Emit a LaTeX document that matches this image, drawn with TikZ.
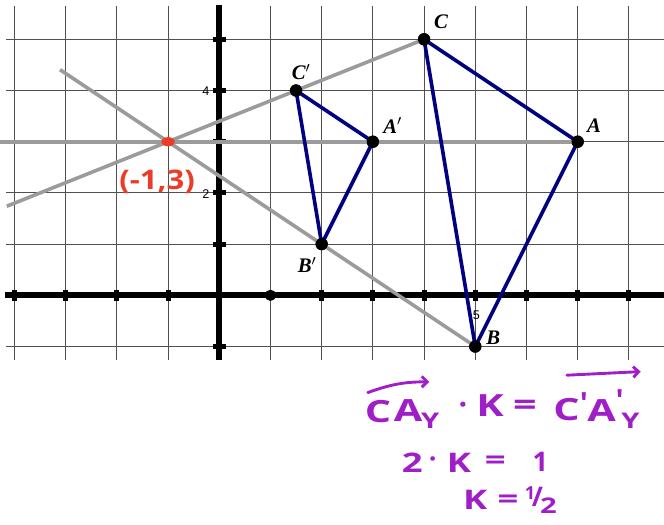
\documentclass[tikz,border=0pt]{standalone}
\usepackage{fontspec}
\usepackage{graphicx}
\usetikzlibrary{arrows.meta}
\setmainfont{Liberation Serif}
\setsansfont{Liberation Sans}
\newfontfamily\handfont{Open Sans}
\newcommand{\hwide}[1]{\scalebox{1.35}[1]{#1}}
\definecolor{navyline}{RGB}{0,0,128}
\definecolor{grayline}{RGB}{155,155,155}
\definecolor{gridline}{RGB}{80,80,80}
\definecolor{handpurple}{RGB}{160,30,200}
\definecolor{handred}{RGB}{235,60,40}
\begin{document}
\begin{tikzpicture}[
  gridstyle/.style={draw=gridline, line width=0.6pt},
  axisstyle/.style={draw=black, line width=3.3pt},
  rayline/.style={draw=grayline, line width=2pt},
  triline/.style={draw=navyline, line width=2pt, line join=round},
  ptdot/.style={circle, fill=black, inner sep=0pt, minimum size=0.24cm},
  ptlabel/.style={font=\fontsize{11.5}{13}\selectfont\bfseries\itshape, inner sep=0pt},
  axlabel/.style={font=\sffamily\fontsize{7}{8}\selectfont, inner sep=0pt},
  xtick/.style={fill=black, minimum width=0.1cm, minimum height=0.21cm, inner sep=0pt},
  ytick/.style={fill=black, minimum width=0.26cm, minimum height=0.1cm, inner sep=0pt},
  hand/.style={text=handpurple, font=\handfont\bfseries\fontsize{17}{20}\selectfont, inner sep=0pt},
  handmid/.style={text=handpurple, font=\handfont\bfseries\fontsize{15}{18}\selectfont, inner sep=0pt},
  handsub/.style={text=handpurple, font=\handfont\bfseries\fontsize{12}{14}\selectfont, inner sep=0pt},
  handarrow/.style={draw=handpurple, line width=1.6pt, line cap=round, -{Straight Barb[length=3pt,width=6pt]}},
]
\useasboundingbox (-4.283,-4.467) rectangle (8.686,5.768);
% grid
\foreach \i in {-4,...,8} \draw[gridstyle] (\i,-1.264) -- (\i,5.65);
\foreach \j in {-1,...,5} \draw[gridstyle] (-4.166,\j) -- (8.686,\j);
% axes
\draw[axisstyle] (-4.18,0) -- (8.686,0);
\draw[axisstyle] (0,-1.27) -- (0,5.67);
\foreach \i in {-4,-3,-2,-1,2,3,4,5,6,7,8} \node[xtick] (xt\i) at (\i,0) {};
\node[circle, fill=black, inner sep=0pt, minimum size=0.22cm] (xt1) at (1,0) {};
\foreach \j in {-1,1,2,3,4,5} \node[ytick] (yt\j) at (0,\j) {};
\node[axlabel] (l4) at (-0.26,3.99) {4};
\node[axlabel] (l2) at (-0.26,1.98) {2};
\node[axlabel] (l5) at (5.02,-0.38) {5};
% points
\coordinate (O) at (-1,3);
\coordinate (E1) at (-4.283,3);
\coordinate (E2) at (-4.15,1.74);
\coordinate (E3) at (-3.111,4.407);
\node[ptdot] (A) at (7,3) {};
\node[ptdot] (B) at (5,-1) {};
\node[ptdot] (C) at (4,5) {};
\node[ptdot] (Ap) at (3,3) {};
\node[ptdot] (Bp) at (2,1) {};
\node[ptdot] (Cp) at (1.5,4) {};
% gray rays
\draw[rayline] (E1) -- (A.center);
\draw[rayline] (E2) -- (C.center);
\draw[rayline] (E3) -- (B.center);
% triangles
\draw[triline] (A.center) -- (B.center) -- (C.center) -- cycle;
\draw[triline] (Ap.center) -- (Bp.center) -- (Cp.center) -- cycle;
% redraw dots on top
\foreach \p in {A,B,C,Ap,Bp,Cp} \fill (\p) circle (0.12);
% point labels
\node[ptlabel] (lC) at (4.33,5.34) {C};
\node[ptlabel] (lCp) at (1.6,4.36) {C$'$};
\node[ptlabel] (lAp) at (3.39,3.32) {A$'$};
\node[ptlabel] (lA) at (7.32,3.31) {A};
\node[ptlabel] (lB) at (5.35,-0.83) {B};
\node[ptlabel] (lBp) at (1.72,0.59) {B$'$};
% red annotation
\fill[handred] (O) ellipse (0.13 and 0.09);
\node[text=handred, font=\handfont\bfseries\fontsize{15}{18}\selectfont, inner sep=0pt] (red) at (-1.215,2.21) {\scalebox{1.15}[1]{(-1,3)}};
% purple handwriting, line 1
\node[hand] (c1) at (3.10,-2.28) {\hwide{C}};
\node[hand] (a1) at (3.69,-2.25) {\hwide{A}};
\node[handsub] (y1) at (4.12,-2.46) {\hwide{Y}};
\node[hand] (dot1) at (4.76,-2.22) {·};
\node[hand] (k1) at (5.29,-2.16) {\hwide{K}};
\node[hand] (eq1) at (5.97,-2.20) {\hwide{=}};
\node[hand, anchor=west] (c2) at (6.52,-2.17) {\hwide{C}\rlap{\raisebox{0.35ex}{'}}};
\node[hand, anchor=west] (a2) at (7.18,-2.16) {\hwide{A}\rlap{\raisebox{0.6ex}{'}}};
\node[handsub] (y2) at (8.03,-2.45) {\hwide{Y}};
\coordinate (a1s) at (2.90,-1.90);
\coordinate (a1e) at (4.10,-1.69);
\coordinate (a2s) at (6.79,-1.56);
\coordinate (a2e) at (8.23,-1.49);
\draw[handarrow] (a1s) to[bend left=10] (a1e);
\draw[handarrow] (a2s) -- (a2e);
% line 2
\node[handmid] (two) at (3.77,-3.27) {\hwide{2}};
\node[handmid] (dot2) at (4.17,-3.27) {·};
\node[handmid] (k2) at (4.68,-3.27) {\hwide{K}};
\node[handmid] (eq2) at (5.39,-3.27) {\hwide{=}};
\node[handmid] (one) at (6.27,-3.25) {1};
% line 3
\node[handmid] (k3) at (5.00,-4.00) {\hwide{K}};
\node[handmid] (eq3) at (5.64,-4.04) {\hwide{=}};
\node[handmid] (half) at (6.28,-4.00) {\raisebox{0.5ex}{\fontsize{10}{12}\selectfont 1}\kern-0.12em/\kern-0.1em\raisebox{-0.45ex}{\fontsize{12}{14}\selectfont\hwide{2}}};
\end{tikzpicture}
\end{document}
